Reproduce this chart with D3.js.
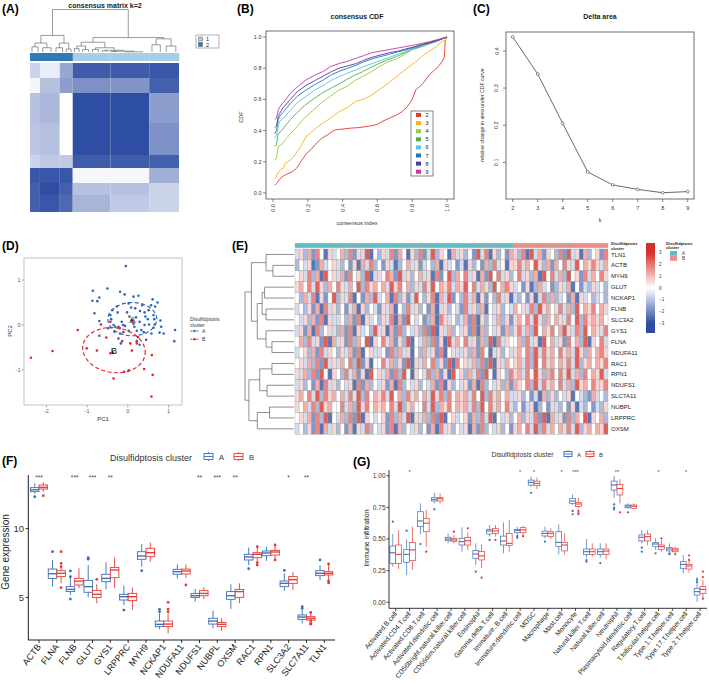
<!DOCTYPE html>
<html><head><meta charset="utf-8">
<script src="https://cdn.jsdelivr.net/npm/d3@7/dist/d3.min.js"></script>
<style>html,body{margin:0;padding:0;background:#fff;}svg{display:block;}</style>
</head><body>
<svg id="chart" width="709" height="684"></svg>
<script>
// ================= DATA =================
// (A) consensus matrix k=2 : block structure (sample counts per block, block intensity)
const consensusColSizes = [10, 20, 13, 38, 39, 30];
const consensusColCluster = ["2", "2", "2", "1", "1", "1"];
const consensusRowSizes = [15, 15, 30, 32, 13, 15, 12, 17];
const consensusBlocks = [
  [0.25, 0.10, 0.50, 0.92, 0.92, 0.95],
  [0.05, 0.35, 0.55, 0.62, 0.60, 0.90],
  [0.35, 0.40, 0.00, 1.00, 1.00, 0.55],
  [0.32, 0.35, 0.00, 1.00, 1.00, 0.62],
  [0.25, 0.30, 0.30, 0.92, 0.92, 0.90],
  [0.95, 0.95, 0.95, 0.05, 0.05, 0.45],
  [0.90, 1.00, 0.90, 0.35, 0.35, 0.25],
  [0.90, 0.95, 0.85, 0.42, 0.30, 0.25]
];
const consensusTree = {h: 1, c: [
  {h: .39, c: [
    {h: .21, c: [{h: .12, n: 10}, {h: .10, n: 14}]},
    {h: .21, c: [{h: .10, n: 11}, {h: .07, n: 8}]}
  ]},
  {h: .34, c: [
    {h: .23, c: [
      {h: .14, c: [{h: .08, n: 8}, {h: .06, n: 10}]},
      {h: .10, c: [{h: .06, n: 10}, {h: .04, c: [{h: .03, n: 8}, {h: .02, c: [{h: .01, n: 10}, {h: .005, n: 31}]}]}]}
    ]},
    {h: .31, c: [{h: .17, n: 14}, {h: .14, n: 16}]}
  ]}
]};
const clusterLegend = ["1", "2"];

// (B) consensus CDF
const cdfK = ["2", "3", "4", "5", "6", "7", "8", "9"];
const cdfColors = ["#e8392b", "#f5b21a", "#9acb3c", "#4cb04f", "#5cc3df", "#2f6db6", "#4a3fa6", "#c63a9e"];
const cdf2 = [[.01,.05],[.02,.06],[.038,.088],[.06,.11],[.086,.124],[.11,.135],[.134,.157],[.16,.2],[.19,.25],[.22,.28],[.25,.32],[.28,.35],[.31,.37],[.34,.395],[.36,.405],[.44,.415],[.5,.42],[.56,.43],[.6,.44],[.63,.46],[.67,.48],[.71,.5],[.74,.52],[.77,.55],[.8,.6],[.82,.66],[.86,.7],[.9,.76],[.93,.79],[.95,.81],[.97,.84],[.98,.86],[.985,.87],[.99,.98],[1,1]];
const cdf3 = [[.01,.09],[.02,.11],[.038,.146],[.06,.16],[.07,.19],[.1,.21],[.13,.25],[.16,.3],[.19,.36],[.22,.39],[.25,.42],[.29,.45],[.33,.48],[.38,.52],[.43,.55],[.48,.59],[.52,.6],[.57,.63],[.62,.67],[.67,.71],[.72,.755],[.77,.8],[.82,.84],[.86,.88],[.9,.91],[.94,.94],[.97,.97],[.99,.98],[1,1]];
const cdf4 = [[.01,.21],[.02,.22],[.03,.3],[.05,.31],[.077,.35],[.1,.38],[.134,.42],[.18,.48],[.23,.53],[.28,.58],[.33,.62],[.38,.66],[.42,.68],[.47,.72],[.52,.75],[.57,.78],[.61,.81],[.66,.84],[.71,.86],[.76,.89],[.8,.92],[.85,.94],[.9,.96],[.95,.98],[1,1]];
const cdf5 = [[.01,.30],[.02,.31],[.03,.38],[.05,.4],[.077,.44],[.1,.47],[.134,.51],[.18,.56],[.23,.6],[.28,.64],[.33,.67],[.38,.7],[.42,.725],[.47,.755],[.52,.78],[.57,.81],[.61,.83],[.66,.855],[.71,.875],[.76,.9],[.8,.92],[.85,.94],[.9,.965],[.95,.98],[1,1]];
const cdf6 = [[.01,.35],[.02,.37],[.038,.46],[.06,.48],[.1,.53],[.14,.58],[.19,.62],[.24,.66],[.29,.69],[.33,.72],[.38,.745],[.43,.77],[.48,.79],[.52,.81],[.57,.83],[.62,.85],[.67,.87],[.72,.89],[.77,.91],[.82,.925],[.86,.94],[.9,.955],[.95,.975],[1,1]];
const cdf7 = [[.01,.38],[.02,.4],[.03,.47],[.038,.49],[.06,.52],[.1,.575],[.14,.62],[.19,.66],[.24,.695],[.29,.725],[.33,.755],[.38,.78],[.43,.8],[.48,.82],[.52,.84],[.57,.86],[.62,.875],[.67,.89],[.72,.905],[.77,.92],[.82,.935],[.86,.95],[.9,.96],[.95,.98],[1,1]];
const cdf8 = [[.01,.42],[.02,.43],[.03,.49],[.038,.51],[.06,.55],[.1,.6],[.14,.65],[.19,.69],[.24,.72],[.29,.75],[.33,.775],[.38,.8],[.43,.815],[.48,.83],[.52,.85],[.57,.87],[.62,.885],[.67,.9],[.72,.91],[.77,.925],[.82,.94],[.86,.955],[.9,.965],[.95,.98],[1,1]];
const cdf9 = [[.01,.47],[.02,.48],[.03,.53],[.038,.55],[.06,.58],[.1,.64],[.14,.68],[.19,.725],[.24,.755],[.29,.78],[.33,.81],[.38,.83],[.43,.845],[.48,.865],[.52,.88],[.57,.9],[.62,.91],[.67,.92],[.72,.93],[.77,.94],[.82,.95],[.86,.96],[.9,.97],[.95,.985],[1,1]];
const cdfCurves = [cdf2, cdf3, cdf4, cdf5, cdf6, cdf7, cdf8, cdf9];

// (C) Delta area
const deltaK = [2, 3, 4, 5, 6, 7, 8, 9];
const deltaArea = [0.438, 0.338, 0.205, 0.074, 0.039, 0.027, 0.018, 0.021];

// (D) PCA
const pcaA = [[-0.05,1.31],[-0.5,.81],[-0.86,.76],[-0.19,.74],[-0.08,.68],[-0.87,.54],[-0.7,.61],[-0.75,.53],[.14,.63],[.26,.65],[.61,.57],[.73,.5],[.57,.44],[-0.82,.26],[-0.7,.09],[-0.27,.41],[-0.38,.33],[-0.25,.28],[-0.43,.22],[.02,.48],[.08,.39],[.18,.37],[.3,.31],[.41,.28],[.51,.33],[.63,.22],[.43,.19],[.65,.13],[.8,.1],[.2,.17],[.29,.07],[.14,.03],[.41,0],[.52,.01],[.63,-.06],[.82,-.04],[.78,-.17],[.88,-.19],[1.16,-.11],[1.14,-.36],[.58,-.19],[.39,-.16],[.22,-.13],[.02,-.13],[-.07,-.02],[-.15,.07],[-.35,0],[-.48,-.07],[-.33,-.15],[-.19,-.19],[-.12,0],[.1,.11],[-.23,-.3],[-.17,-.41],[.22,-.36],[.29,-.44],[-.7,-.24],[.45,-.33],[-.31,-.04],[-.41,.13],[.04,.19],[.49,.13],[.67,.41],[-.02,.28],[.35,.44],[.16,-.04],[-.2,-.07],[.66,.01],[.33,-.11]];
const pcaB = [[-2.38,-.73],[-1.85,-.58],[-1.23,-.11],[-.66,.01],[-1.01,-.52],[-.76,-.57],[-.53,-.28],[-.43,.07],[-.23,-.04],[-.14,-.36],[-.37,-.61],[-.35,-1.19],[-.09,-1.04],[.02,-1.01],[.1,-.57],[.06,-.41],[.22,-.41],[.4,-.98],[.59,-.67],[.61,-1.11],[.58,-1.59],[.11,.07],[-.43,-.63],[-.11,-.16],[.25,-.27]];
const pcaEllipseA = [0.11, 0.13, 0.60, 0.37, 0];
const pcaEllipseB = [-0.34, -0.56, 0.77, 0.50, -6];
const clusterNames = ["A", "B"];

// (E) heatmap
const heatmapGenes = ["TLN1","ACTB","MYH9","GLUT","NCKAP1","FLNB","SLC3A2","GYS1","FLNA","NDUFA11","RAC1","RPN1","NDUFS1","SLC7A11","NUBPL","LRPPRC","OXSM"];
const heatmapGroupSizes = [53, 23];
const heatmapRows = [
  "4637285164 5738264915 3648275163 8249365174 6352948163 527|6381947265 3829461735 628",
  "3546127456 4352617483 5264135746 2453716452 4163527384 516|6847596372 7586495768 647",
  "5648371956 4728563914 6587294635 7461825937 5846172958 463|5846371958 4739562847 586",
  "6758496375 8647593867 5749685736 4869576847 6958476395 786|4526137452 3647152436 453",
  "5374816259 3648152739 4571836249 5368174925 3847162538 461|4352614837 3452716453 453",
  "4536271846 3524716354 2647153846 3527146354 2846371546 354|7564839675 6847395768 576",
  "5463728164 4537281645 3648172954 5237186453 4728163547 362|6758496375 7648593867 675",
  "4627183564 3728164539 4617283546 3829164735 4628173546 273|6847395768 5796483957 648",
  "5738462917 4628375916 5847263915 4738261947 5846273918 465|5738461957 4628573916 584",
  "4563728465 3647281564 4528374615 3746281564 4637285146 354|6758394867 5867496375 786",
  "5647382946 4758392615 5847362916 4758362918 5647382916 475|6748395867 5768493675 768",
  "6473829516 5384726195 6472839516 5483726195 6374829516 538|6748596378 5869473857 694",
  "4635271846 3546182735 4627183546 3547281635 4627183546 372|7658394867 5847396758 668",
  "6758493867 5748693857 6849573867 5749683857 6748593867 574|4635241736 3546154327 453",
  "6574839675 5847396857 6758493675 5849376857 6748395867 584|3524613524 4352614352 436",
  "5647283915 4738291654 5628374916 4738291564 5627384915 463|5736482917 4628375916 573",
  "4536281746 3527164835 4628173546 3527184635 4617283546 352|6758493867 5768493675 769"
];
const geneTree = {h: 1, c: [
  {h: .87, c: [
    {h: .57, c: [{n: 1, h: 0}, {h: .43, c: [{n: 1, h: 0}, {n: 1, h: 0}]}]},
    {h: .75, c: [
      {h: .65, c: [{h: .6, c: [{n: 1, h: 0}, {n: 1, h: 0}]}, {h: .57, c: [{n: 1, h: 0}, {n: 1, h: 0}]}]},
      {h: .57, c: [{n: 1, h: 0}, {h: .45, c: [{n: 1, h: 0}, {n: 1, h: 0}]}]}
    ]}
  ]},
  {h: .92, c: [
    {h: .7, c: [{h: .45, c: [{n: 1, h: 0}, {n: 1, h: 0}]}, {h: .55, c: [{n: 1, h: 0}, {n: 1, h: 0}]}]},
    {h: .75, c: [{h: .5, c: [{n: 1, h: 0}, {n: 1, h: 0}]}, {n: 1, h: 0}]}
  ]}
]};
const colorbarTicks = [3, 2, 1, 0, -1, -2, -3];

// (F) gene expression boxplots: [whiskerLow, Q1, median, Q3, whiskerHigh, outliers]
const exprGenes = ["ACTB","FLNA","FLNB","GLUT","GYS1","LRPPRC","MYH9","NCKAP1","NDUFA11","NDUFS1","NUBPL","OXSM","RAC1","RPN1","SLC3A2","SLC7A11","TLN1"];
const exprA = [
  [12.54,12.69,12.83,12.98,13.29,[12.32]],
  [5.78,6.38,6.72,7.06,7.72,[8.32]],
  [5.17,5.42,5.58,5.78,6.43,[6.92,6.5,4.88]],
  [5.0,5.37,5.78,6.24,7.35,[7.89,7.78]],
  [5.58,6.14,6.38,6.68,7.55,[]],
  [4.45,4.81,5.05,5.22,5.85,[4.08]],
  [7.23,7.77,8.01,8.32,8.88,[6.94]],
  [2.7,2.87,3.04,3.28,3.84,[4.13,3.96]],
  [6.38,6.68,6.87,7.04,7.4,[]],
  [4.69,5.0,5.12,5.29,5.61,[]],
  [2.75,3.06,3.28,3.48,4.03,[]],
  [4.15,4.86,5.12,5.42,5.95,[]],
  [7.35,7.72,7.94,8.13,8.62,[7.09]],
  [7.65,8.03,8.23,8.37,8.69,[]],
  [5.46,5.78,6.02,6.19,6.75,[6.97]],
  [3.11,3.4,3.57,3.72,4.08,[4.32,4.2]],
  [6.26,6.58,6.75,6.94,7.35,[7.72]]
];
const exprB = [
  [12.69,12.88,13.0,13.17,13.37,[12.4]],
  [6.02,6.51,6.75,6.94,7.35,[8.32,7.48,7.23,5.71]],
  [5.66,5.9,6.19,6.38,7.11,[]],
  [4.57,5.0,5.22,5.51,5.95,[6.31]],
  [5.66,6.43,6.99,7.18,7.89,[]],
  [4.08,4.76,5.05,5.29,5.71,[]],
  [7.6,7.96,8.25,8.57,8.98,[]],
  [2.38,2.87,3.06,3.28,3.84,[4.64,4.15,3.96]],
  [6.43,6.7,6.92,7.06,7.4,[5.9]],
  [4.88,5.12,5.29,5.49,5.73,[]],
  [2.55,2.87,3.04,3.18,3.48,[]],
  [4.57,5.0,5.42,5.58,6.02,[]],
  [7.6,7.89,8.13,8.25,8.69,[8.69,7.52,7.35]],
  [7.72,8.08,8.3,8.42,8.81,[8.81,7.72]],
  [5.54,6.02,6.29,6.51,6.87,[]],
  [3.11,3.35,3.48,3.6,3.96,[3.9,3.3,3.11,3.05]],
  [6.26,6.63,6.75,6.87,7.35,[7.43,6.2,6.05]]
];
const exprSig = ["***","","***","***","**","","","","","**","***","**","","","*","**",""];
const exprTicks = [5, 10];

// (G) immune infiltration boxplots
const immuneCells = ["Activated.B.cell","Activated.CD4.T.cell","Activated.CD8.T.cell","Activated.dendritic.cell","CD56bright.natural.killer.cell","CD56dim.natural.killer.cell","Eosinophil","Gamma.delta.T.cell","Immature..B.cell","Immature.dendritic.cell","MDSC","Macrophage","Mast.cell","Monocyte","Natural.killer.T.cell","Natural.killer.cell","Neutrophil","Plasmacytoid.dendritic.cell","Regulatory.T.cell","T.follicular.helper.cell","Type.1.T.helper.cell","Type.17.T.helper.cell","Type.2.T.helper.cell"];
const immuneA = [
  [.28,.308,.392,.445,.54,[.637]],
  [.216,.316,.379,.419,.498,[.566]],
  [.54,.598,.643,.716,.782,[.461]],
  [.782,.801,.814,.827,.867,[.735]],
  [.466,.487,.5,.514,.545,[]],
  [.4,.453,.48,.506,.593,[]],
  [.295,.348,.382,.409,.466,[.242]],
  [.519,.54,.564,.577,.611,[.493]],
  [.387,.453,.485,.523,.632,[]],
  [.53,.55,.569,.577,.598,[.523,.51]],
  [.914,.927,.948,.966,.993,[.866]],
  [.506,.524,.545,.563,.598,[.48]],
  [.379,.44,.474,.558,.616,[]],
  [.769,.782,.8,.822,.853,[.722,.696]],
  [.353,.379,.4,.421,.5,[.334,.32]],
  [.353,.379,.4,.421,.466,[.31]],
  [.827,.887,.927,.958,1.0,[.774,.748,.735]],
  [.737,.748,.761,.769,.782,[.711]],
  [.466,.485,.514,.532,.572,[.432,.4]],
  [.414,.44,.461,.474,.506,[.387]],
  [.4,.406,.421,.432,.466,[.387,.38]],
  [.229,.269,.3,.321,.374,[]],
  [.005,.057,.084,.11,.2,[.18,.16]]
];
const immuneB = [
  [.263,.308,.379,.453,.57,[]],
  [.256,.329,.414,.472,.598,[]],
  [.439,.558,.625,.664,.73,[.4]],
  [.782,.801,.819,.827,.862,[]],
  [.466,.48,.493,.506,.53,[.558]],
  [.414,.453,.487,.514,.55,[.585]],
  [.269,.335,.367,.401,.458,[.195]],
  [.519,.545,.564,.582,.611,[.493]],
  [.4,.448,.466,.545,.65,[]],
  [.53,.55,.572,.59,.606,[.523]],
  [.895,.922,.94,.958,.985,[]],
  [.5,.519,.545,.558,.585,[]],
  [.379,.406,.453,.474,.545,[]],
  [.743,.756,.777,.79,.827,[.722,.705,.696]],
  [.361,.379,.4,.421,.466,[]],
  [.34,.379,.405,.421,.466,[]],
  [.782,.848,.9,.932,.974,[.711]],
  [.737,.743,.759,.769,.782,[]],
  [.453,.485,.519,.54,.572,[]],
  [.4,.419,.44,.453,.493,[.506]],
  [.387,.4,.414,.427,.44,[.38]],
  [.234,.263,.287,.3,.347,[.37,.334]],
  [.018,.071,.102,.124,.176,[.242,.03,.2]]
];
const immuneSig = ["","*","","","","","","","","*","*","","*","***","","","**","","","*","","*",""];
const immuneTicks = [0, 0.25, 0.5, 0.75, 1];

const panelLabels = ["(A)","(B)","(C)","(D)","(E)","(F)","(G)"];

// ================= DRAW =================
const FONT = "'Liberation Sans', Arial, Helvetica, sans-serif";
const svg = d3.select('#chart').style('font-family', FONT);
svg.append('rect').attr('width', 709).attr('height', 684).attr('fill', '#fff');

function txt(g, x, y, s, size, o = {}) {
  const t = g.append('text').attr('x', x).attr('y', y).text(s).attr('font-size', size).attr('fill', o.fill || '#000');
  if (o.anchor) t.attr('text-anchor', o.anchor);
  if (o.weight) t.attr('font-weight', o.weight);
  if (o.rotate !== undefined) t.attr('transform', `rotate(${o.rotate},${x},${y})`);
  return t;
}
function line(g, x1, y1, x2, y2, stroke, w, dash) {
  const l = g.append('line').attr('x1', x1).attr('y1', y1).attr('x2', x2).attr('y2', y2).attr('stroke', stroke).attr('stroke-width', w);
  if (dash) l.attr('stroke-dasharray', dash);
  return l;
}
function dendroSegments(tree) {
  const segs = [];
  function rec(node, start) {
    if (node.n !== undefined) {
      const end = start + node.n, pos = start + node.n / 2;
      if (node.n > 1) {
        const a = start + node.n * 0.2, b = end - node.n * 0.2;
        segs.push([a, node.h, b, node.h], [a, node.h, a, 0], [b, node.h, b, 0]);
      }
      return {pos, end, h: node.h};
    }
    let s = start; const kids = [];
    node.c.forEach(c => { const r = rec(c, s); kids.push(r); s = r.end; });
    const pos = d3.mean(kids, k => k.pos);
    segs.push([kids[0].pos, node.h, kids[kids.length - 1].pos, node.h]);
    kids.forEach(k => segs.push([k.pos, node.h, k.pos, k.h]));
    return {pos, end: s, h: node.h};
  }
  rec(tree, 0);
  return segs;
}

// panel labels
const labelPos = [[2,13],[237,13],[473,13],[2,250],[232,250],[2,465],[353,466]];
panelLabels.forEach((l, i) => txt(svg, labelPos[i][0], labelPos[i][1], l, 12, {weight: 'bold'}));

// ---------- (A) ----------
const gA = svg.append('g');
const nA = d3.sum(consensusColSizes);
const aX = d3.scaleLinear().domain([0, nA]).range([30, 179]);
const aY = d3.scaleLinear().domain([0, d3.sum(consensusRowSizes)]).range([63, 212]);
const aH = d3.scaleLinear().domain([0, 1]).range([52, 9.5]);
const aCol = d3.scaleLinear().domain([0, 1]).range(['#ffffff', '#2e4ea4']);
const aClusterCol = d3.scaleOrdinal().domain(clusterLegend).range(['#a7cfe4', '#2d7bb8']);
txt(gA, 105, 7.5, 'consensus matrix k=2', 7, {anchor: 'middle', weight: 'bold', fill: '#222'});
let accR = 0;
consensusRowSizes.forEach((rs, ri) => {
  let accC = 0;
  consensusColSizes.forEach((cs, ci) => {
    gA.append('rect').attr('x', aX(accC)).attr('y', aY(accR))
      .attr('width', aX(accC + cs) - aX(accC)).attr('height', aY(accR + rs) - aY(accR))
      .attr('fill', aCol(consensusBlocks[ri][ci]));
    accC += cs;
  });
  accR += rs;
});
let accB = 0;
consensusColSizes.forEach((cs, ci) => {
  gA.append('rect').attr('x', aX(accB)).attr('y', 53).attr('width', aX(accB + cs) - aX(accB) + 0.3).attr('height', 8)
    .attr('fill', aClusterCol(consensusColCluster[ci]));
  accB += cs;
});
dendroSegments(consensusTree).forEach(s => line(gA, aX(s[0]), aH(s[1]), aX(s[2]), aH(s[3]), '#555', 0.6));
gA.append('rect').attr('x', 196).attr('y', 35).attr('width', 23).attr('height', 13).attr('fill', 'none').attr('stroke', '#666').attr('stroke-width', 0.5);
clusterLegend.forEach((c, i) => {
  gA.append('rect').attr('x', 198.5).attr('y', 37 + i * 5.5).attr('width', 4).attr('height', 4).attr('fill', aClusterCol(c)).attr('stroke', '#444').attr('stroke-width', 0.4);
  txt(gA, 206, 41 + i * 5.5, c, 5.5, {fill: '#222'});
});

// ---------- (B) ----------
const gB = svg.append('g');
const bX = d3.scaleLinear().domain([0, 1]).range([273, 447]);
const bY = d3.scaleLinear().domain([0, 1]).range([193, 37]);
txt(gB, 357, 19, 'consensus CDF', 7, {anchor: 'middle', weight: 'bold', fill: '#222'});
const bLine = d3.line().x(d => bX(d[0])).y(d => bY(d[1]));
cdfCurves.forEach((c, i) => gB.append('path').attr('d', bLine(c)).attr('fill', 'none').attr('stroke', cdfColors[i]).attr('stroke-width', 0.9));
gB.append('rect').attr('x', 266).attr('y', 31).attr('width', 188).attr('height', 168).attr('fill', 'none').attr('stroke', '#333').attr('stroke-width', 0.7);
bX.ticks(5).forEach(t => {
  line(gB, bX(t), 199, bX(t), 202, '#333', 0.6);
  txt(gB, bX(t) + 2, 204, d3.format('.1f')(t), 5.5, {anchor: 'end', rotate: -90, fill: '#333'});
});
bY.ticks(5).forEach(t => {
  line(gB, 263, bY(t), 266, bY(t), '#333', 0.6);
  txt(gB, 261.5, bY(t) + 2, d3.format('.1f')(t), 5.5, {anchor: 'end', fill: '#333'});
});
txt(gB, 357, 225, 'consensus index', 5.5, {anchor: 'middle', fill: '#333'});
txt(gB, 243, 117, 'CDF', 5.5, {anchor: 'middle', rotate: -90, fill: '#333'});
gB.append('rect').attr('x', 411).attr('y', 111).attr('width', 22).attr('height', 65).attr('fill', '#fff').attr('stroke', '#333').attr('stroke-width', 0.6);
cdfK.forEach((k, i) => {
  gB.append('rect').attr('x', 416).attr('y', 113 + i * 8.1).attr('width', 5).attr('height', 4).attr('fill', cdfColors[i]);
  txt(gB, 425.5, 117 + i * 8.1, k, 5.5, {fill: '#222'});
});

// ---------- (C) ----------
const gC = svg.append('g');
const cX = d3.scaleLinear().domain([2, 9]).range([512.7, 687.7]);
const cY = d3.scaleLinear().domain([0.1, 0.4]).range([162.3, 51]);
txt(gC, 600, 19, 'Delta area', 7, {anchor: 'middle', weight: 'bold', fill: '#222'});
const pts = deltaK.map((k, i) => [k, deltaArea[i]]);
gC.append('path').attr('d', d3.line().x(d => cX(d[0])).y(d => cY(d[1]))(pts)).attr('fill', 'none').attr('stroke', '#444').attr('stroke-width', 0.8);
pts.forEach(p => gC.append('circle').attr('cx', cX(p[0])).attr('cy', cY(p[1])).attr('r', 1.4).attr('fill', '#fff').attr('stroke', '#444').attr('stroke-width', 0.6));
gC.append('rect').attr('x', 506).attr('y', 32).attr('width', 188).attr('height', 167).attr('fill', 'none').attr('stroke', '#333').attr('stroke-width', 0.7);
deltaK.forEach(k => {
  line(gC, cX(k), 199, cX(k), 202, '#333', 0.6);
  txt(gC, cX(k), 210, String(k), 5.5, {anchor: 'middle', fill: '#333'});
});
[0.1, 0.2, 0.3, 0.4].forEach(t => {
  line(gC, 503, cY(t), 506, cY(t), '#333', 0.6);
  txt(gC, 498.5, cY(t), d3.format('.1f')(t), 5.5, {anchor: 'middle', rotate: -90, fill: '#333'});
});
txt(gC, 600, 222, 'k', 5.5, {anchor: 'middle', fill: '#333'});
txt(gC, 484, 115, 'relative change in area under CDF curve', 5.2, {anchor: 'middle', rotate: -90, fill: '#333'});

// ---------- (D) ----------
const gD = svg.append('g');
const dX = d3.scaleLinear().domain([-2.55, 1.33]).range([24, 182]);
const dY = d3.scaleLinear().domain([-1.78, 1.49]).range([405, 258]);
const dCol = ['#2f68b8', '#e3272b'];
gD.append('rect').attr('x', 24).attr('y', 258).attr('width', 158).attr('height', 147).attr('fill', '#fff');
[pcaA, pcaB].forEach((set, j) => set.forEach(p =>
  gD.append('circle').attr('cx', dX(p[0])).attr('cy', dY(p[1])).attr('r', 1.3).attr('fill', dCol[j])));
function ellipsePath(e) {
  const a = e[4] * Math.PI / 180, ptsE = [];
  d3.range(0, 361, 6).forEach(deg => {
    const t = deg * Math.PI / 180;
    const ex = e[2] * Math.cos(t), ey = e[3] * Math.sin(t);
    ptsE.push([dX(e[0] + ex * Math.cos(a) - ey * Math.sin(a)), dY(e[1] + ex * Math.sin(a) + ey * Math.cos(a))]);
  });
  return d3.line()(ptsE);
}
[pcaEllipseA, pcaEllipseB].forEach((e, j) => {
  gD.append('path').attr('d', ellipsePath(e)).attr('fill', 'none').attr('stroke', dCol[j]).attr('stroke-width', 1.2).attr('stroke-dasharray', '4,2.5');
  txt(gD, dX(e[0]), dY(e[1]) + 3.5, clusterNames[j], 9.5, {anchor: 'middle', fill: '#111'});
});
gD.append('rect').attr('x', 24).attr('y', 258).attr('width', 158).attr('height', 147).attr('fill', 'none').attr('stroke', '#999').attr('stroke-width', 0.6);
[-2, -1, 0, 1].forEach(t => {
  line(gD, dX(t), 405, dX(t), 407.5, '#666', 0.5);
  txt(gD, dX(t), 412.5, String(t), 5.5, {anchor: 'middle', fill: '#555'});
});
[-1, 0, 1].forEach(t => {
  line(gD, 21.5, dY(t), 24, dY(t), '#666', 0.5);
  txt(gD, 20.5, dY(t) + 2, String(t), 5.5, {anchor: 'end', fill: '#555'});
});
txt(gD, 103, 421, 'PC1', 6, {anchor: 'middle', fill: '#333'});
txt(gD, 12, 331, 'PC2', 6, {anchor: 'middle', rotate: -90, fill: '#333'});
txt(gD, 190, 320.5, 'Disulfidptosis', 5, {fill: '#333'});
txt(gD, 190, 326.5, 'cluster', 5, {fill: '#333'});
clusterNames.forEach((c, j) => {
  const yy = 331 + j * 8.3;
  line(gD, 190.5, yy, 198.5, yy, dCol[j], 1, '2,1');
  gD.append('circle').attr('cx', 194.5).attr('cy', yy).attr('r', 1.2).attr('fill', dCol[j]);
  txt(gD, 202, yy + 2, c, 5, {fill: '#333'});
});

// ---------- (E) ----------
const gE = svg.append('g');
const hmVals = heatmapRows.map(s => s.replace(/[^0-9]/g, '').split('').map(ch => (+ch - 5) * 0.58));
const nCols = d3.sum(heatmapGroupSizes);
const eX = d3.scaleLinear().domain([0, nCols]).range([295, 608]);
const eY = d3.scaleLinear().domain([0, heatmapGenes.length]).range([249, 434.3]);
const eH = d3.scaleLinear().domain([0, 1]).range([294, 245]);
const eColor = d3.scaleLinear().domain([-3, 0, 3]).range(['#2b4c9f', '#ffffff', '#d62f27']).clamp(true);
const eGroupCol = d3.scaleOrdinal().domain(clusterNames).range(['#62bcc3', '#e98f8b']);
const groupOf = [];
heatmapGroupSizes.forEach((n, gi) => d3.range(n).forEach(() => groupOf.push(clusterNames[gi])));
groupOf.forEach((gname, ci) => {
  gE.append('rect').attr('x', eX(ci)).attr('y', 243.3).attr('width', eX(ci + 1) - eX(ci)).attr('height', 4.4)
    .attr('fill', eGroupCol(gname)).attr('stroke', '#9a9a9a').attr('stroke-width', 0.35);
});
hmVals.forEach((row, ri) => {
  d3.range(nCols).forEach(ci => {
    const v = row[ci] === undefined ? 0 : row[ci];
    gE.append('rect').attr('x', eX(ci)).attr('y', eY(ri)).attr('width', eX(ci + 1) - eX(ci)).attr('height', eY(ri + 1) - eY(ri))
      .attr('fill', eColor(v)).attr('stroke', '#9a9a9a').attr('stroke-width', 0.35);
  });
});
heatmapGenes.forEach((gname, i) => txt(gE, 611, eY(i + 0.5) + 2.1, gname, 6, {fill: '#222'}));
txt(gE, 611, 245.3, 'Disulfidptosis', 4, {weight: 'bold', fill: '#222'});
txt(gE, 611, 249.6, 'cluster', 4, {weight: 'bold', fill: '#222'});
dendroSegments(geneTree).forEach(s => line(gE, eH(s[1]), eY(s[0]), eH(s[3]), eY(s[2]), '#444', 0.6));
// colour bar
const cbY = d3.scaleLinear().domain([-3.8, 3.8]).range([333, 243]);
const grad = svg.append('defs').append('linearGradient').attr('id', 'cbgrad').attr('x1', 0).attr('y1', 1).attr('x2', 0).attr('y2', 0);
[-3.8, -3, -1.5, 0, 1.5, 3, 3.8].forEach(v => grad.append('stop').attr('offset', (v + 3.8) / 7.6).attr('stop-color', eColor(v)));
gE.append('rect').attr('x', 646).attr('y', 243).attr('width', 9).attr('height', 90).attr('fill', 'url(#cbgrad)');
colorbarTicks.forEach(t => txt(gE, 659, cbY(t) + 1.6, t < 0 ? '\u2212' + Math.abs(t) : String(t), 4.5, {fill: '#333'}));
txt(gE, 666, 244.5, 'Disulfidptosis', 4, {weight: 'bold', fill: '#222'});
txt(gE, 666, 248.5, 'cluster', 4, {weight: 'bold', fill: '#222'});
clusterNames.forEach((c, j) => {
  gE.append('rect').attr('x', 670).attr('y', 251 + j * 5).attr('width', 7).attr('height', 4.8).attr('fill', eGroupCol(c));
  txt(gE, 682, 255 + j * 5, c, 4.5, {fill: '#333'});
});

// ---------- box plot helper ----------
const boxCols = ['#3a6db7', '#e33b36'];
function drawBoxes(g, cats, dA, dB, x, y, step, bw, off, sw, rOut) {
  cats.forEach((c, i) => {
    [dA[i], dB[i]].forEach((d, j) => {
      const cx = x(c) + (j ? off : -off) * step;
      const w = bw * step, col = boxCols[j];
      line(g, cx, y(d[0]), cx, y(d[1]), col, sw);
      line(g, cx, y(d[3]), cx, y(d[4]), col, sw);
      g.append('rect').attr('x', cx - w / 2).attr('y', y(d[3])).attr('width', w).attr('height', Math.max(0.5, y(d[1]) - y(d[3])))
        .attr('fill', '#fff').attr('stroke', col).attr('stroke-width', sw);
      line(g, cx - w / 2, y(d[2]), cx + w / 2, y(d[2]), col, sw * 1.5);
      d[5].forEach(o => g.append('circle').attr('cx', cx).attr('cy', y(o)).attr('r', rOut).attr('fill', col));
    });
  });
}
function legendKey(g, x0, y0, w, h, col) {
  g.append('rect').attr('x', x0).attr('y', y0).attr('width', w).attr('height', h).attr('fill', '#fff').attr('stroke', col).attr('stroke-width', 0.9);
  line(g, x0, y0 + h / 2, x0 + w, y0 + h / 2, col, 0.9);
  line(g, x0 + w / 2, y0 - 1.5, x0 + w / 2, y0, col, 0.9);
  line(g, x0 + w / 2, y0 + h, x0 + w / 2, y0 + h + 1.5, col, 0.9);
}

// ---------- (F) ----------
const gF = svg.append('g');
const fX = d3.scalePoint().domain(exprGenes).range([28.3, 335]).padding(0.6);
const fY = d3.scaleLinear().domain([1.9, 13.9]).range([640, 475]);
const fStep = fX.step();
drawBoxes(gF, exprGenes, exprA, exprB, fX, fY, fStep, 0.48, 0.24, 0.9, 1.4);
line(gF, 28.3, 475, 28.3, 640, '#000', 0.9);
line(gF, 28.3, 640, 335, 640, '#000', 0.9);
exprTicks.forEach(t => {
  line(gF, 25.5, fY(t), 28.3, fY(t), '#000', 0.8);
  txt(gF, 24, fY(t) + 3.3, String(t), 9.5, {anchor: 'end', fill: '#333'});
});
exprGenes.forEach((gname, i) => {
  line(gF, fX(gname), 640, fX(gname), 643, '#000', 0.8);
  txt(gF, fX(gname) + 2.5, 647, gname, 9, {anchor: 'end', rotate: -52, fill: '#222'});
  if (exprSig[i]) txt(gF, fX(gname), 480, exprSig[i], 6.5, {anchor: 'middle', fill: '#444'});
});
txt(gF, 9, 552, 'Gene expression', 10, {anchor: 'middle', rotate: -90, fill: '#222'});
txt(gF, 110, 460.5, 'Disulfidptosis cluster', 9, {fill: '#333'});
legendKey(gF, 204, 453.5, 9, 6, boxCols[0]);
txt(gF, 219, 460, 'A', 7.5, {fill: '#333'});
legendKey(gF, 234, 453.5, 9, 6, boxCols[1]);
txt(gF, 249, 460, 'B', 7.5, {fill: '#333'});

// ---------- (G) ----------
const gG = svg.append('g');
const gX = d3.scalePoint().domain(immuneCells).range([395.7, 700]);
const gY = d3.scaleLinear().domain([0, 1]).range([602.3, 475.8]);
const gStep = gX.step();
drawBoxes(gG, immuneCells, immuneA, immuneB, gX, gY, gStep, 0.42, 0.21, 0.7, 1.1);
line(gG, 389, 470, 389, 608.3, '#000', 0.8);
line(gG, 389, 608.3, 707, 608.3, '#000', 0.8);
immuneTicks.forEach(t => {
  line(gG, 386.5, gY(t), 389, gY(t), '#000', 0.7);
  txt(gG, 385.5, gY(t) + 2.3, d3.format('.2f')(t), 6.5, {anchor: 'end', fill: '#333'});
});
immuneCells.forEach((c, i) => {
  line(gG, gX(c), 608.3, gX(c), 611, '#000', 0.7);
  txt(gG, gX(c) + 1.8, 614, c, 6.8, {anchor: 'end', rotate: -50, fill: '#222'});
  if (immuneSig[i]) txt(gG, gX(c), 474, immuneSig[i], 5.5, {anchor: 'middle', fill: '#444'});
});
txt(gG, 369, 538, 'Immune infiltration', 7, {anchor: 'middle', rotate: -90, fill: '#222'});
txt(gG, 491.5, 456.5, 'Disulfidptosis cluster', 6.8, {fill: '#333'});
legendKey(gG, 564, 451.5, 8, 5, boxCols[0]);
txt(gG, 577, 456.5, 'A', 6, {fill: '#333'});
legendKey(gG, 586, 451.5, 8, 5, boxCols[1]);
txt(gG, 599, 456.5, 'B', 6, {fill: '#333'});
</script>
</body></html>
